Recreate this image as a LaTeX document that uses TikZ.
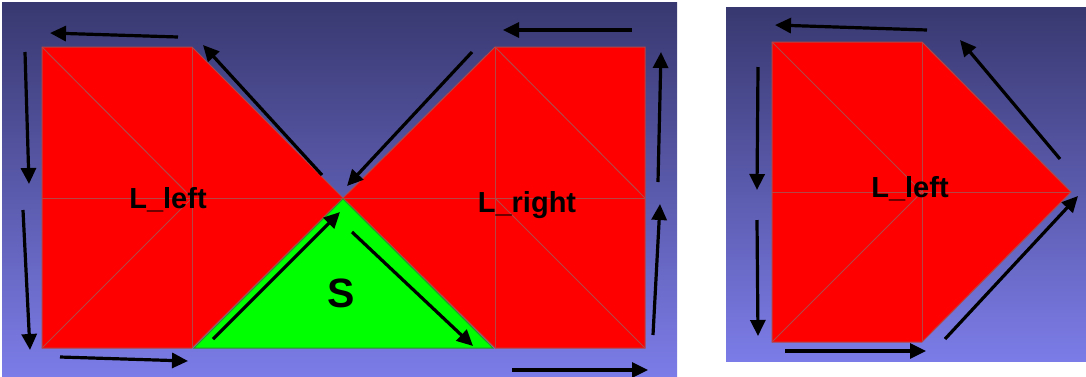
\documentclass[tikz,border=0pt]{standalone}
\usepackage{fontspec}
\setmainfont{Liberation Sans}
\usetikzlibrary{arrows.meta}
\definecolor{bgtop}{RGB}{56,56,112}
\definecolor{bgbot}{RGB}{124,124,232}
\definecolor{meshred}{RGB}{255,0,0}
\definecolor{meshline}{RGB}{180,70,70}
\definecolor{meshgreen}{RGB}{0,255,0}
\definecolor{greenline}{RGB}{40,150,40}
\tikzset{
  panel/.style={top color=bgtop, bottom color=bgbot, draw=none},
  redface/.style={fill=meshred, draw=meshline, line width=1pt, line join=miter},
  greenface/.style={fill=meshgreen, draw=greenline, line width=1pt},
  meshedge/.style={draw=meshline, line width=1pt},
  flow/.style={draw=black, line width=3.2pt, -{Triangle[length=16pt,width=15pt]}},
  lbl/.style={anchor=base, text=black, font=\bfseries\fontsize{29}{29}\selectfont, inner sep=0pt},
  biglbl/.style={anchor=base, text=black, font=\bfseries\fontsize{41}{41}\selectfont, inner sep=0pt}
}
\begin{document}
\begin{tikzpicture}[x=1pt,y=-1pt]
\useasboundingbox (0,0) rectangle (1086,376);
\fill[white] (0,0) rectangle (1086,376);
% panels
\shade[panel] (2,2) rectangle (677,376);
\shade[panel] (726,7) rectangle (1086,361);

% ---------- left panel ----------
% L_left
\path[redface] (42,47) -- (192,47) -- (343,198) -- (192,348) -- (42,348) -- cycle;
\draw[meshedge] (192,47) -- (192,348);
\draw[meshedge] (42,198) -- (343,198);
\draw[meshedge] (42,47) -- (192,198) -- (42,348);
% L_right
\path[redface] (343,198) -- (495,47) -- (645,47) -- (645,348) -- (495,348) -- cycle;
\draw[meshedge] (495,47) -- (495,348);
\draw[meshedge] (343,198) -- (645,198);
\draw[meshedge] (495,47) -- (645,198);
\draw[meshedge] (495,198) -- (645,348);
% S
\path[greenface] (194,348) -- (343,199) -- (493,348) -- cycle;

\node[lbl] (lleft) at (168,208) {L\_left};
\node[lbl] (lright) at (527,212) {L\_right};
\node[biglbl] (s) at (341,307) {S};

% arrow coordinates (left panel)
\coordinate (a1s) at (178,37);  \coordinate (a1e) at (50,33);
\coordinate (a2s) at (25,52);   \coordinate (a2e) at (29,184);
\coordinate (a3s) at (23,210);  \coordinate (a3e) at (30,350);
\coordinate (a4s) at (60,357);  \coordinate (a4e) at (188,361);
\coordinate (a5s) at (322,175); \coordinate (a5e) at (203,45);
\coordinate (a6s) at (213,339); \coordinate (a6e) at (340,212);
\coordinate (a7s) at (352,232); \coordinate (a7e) at (473,346);
\coordinate (a8s) at (472,52);  \coordinate (a8e) at (347,186);
\coordinate (a9s) at (632,30);  \coordinate (a9e) at (503,30);
\coordinate (a10s) at (658,182); \coordinate (a10e) at (661,52);
\coordinate (a11s) at (653,335); \coordinate (a11e) at (660,204);
\coordinate (a12s) at (512,370); \coordinate (a12e) at (648,370);
\foreach \i in {1,...,12} { \draw[flow] (a\i s) -- (a\i e); }

% ---------- right panel ----------
\path[redface] (772,42) -- (922,42) -- (1071,192) -- (922,342) -- (772,342) -- cycle;
\draw[meshedge] (922,42) -- (922,342);
\draw[meshedge] (772,192) -- (1071,192);
\draw[meshedge] (772,42) -- (922,192) -- (772,342);
\node[lbl] (lleft2) at (910,197) {L\_left};

\coordinate (b1s) at (927,30);  \coordinate (b1e) at (775,25);
\coordinate (b2s) at (1060,159); \coordinate (b2e) at (960,40);
\coordinate (b3s) at (758,67);  \coordinate (b3e) at (757,190);
\coordinate (b4s) at (757,220); \coordinate (b4e) at (758,336);
\coordinate (b5s) at (785,351); \coordinate (b5e) at (926,351);
\coordinate (b6s) at (945,339); \coordinate (b6e) at (1078,196);
\foreach \i in {1,...,6} { \draw[flow] (b\i s) -- (b\i e); }
\end{tikzpicture}
\end{document}
